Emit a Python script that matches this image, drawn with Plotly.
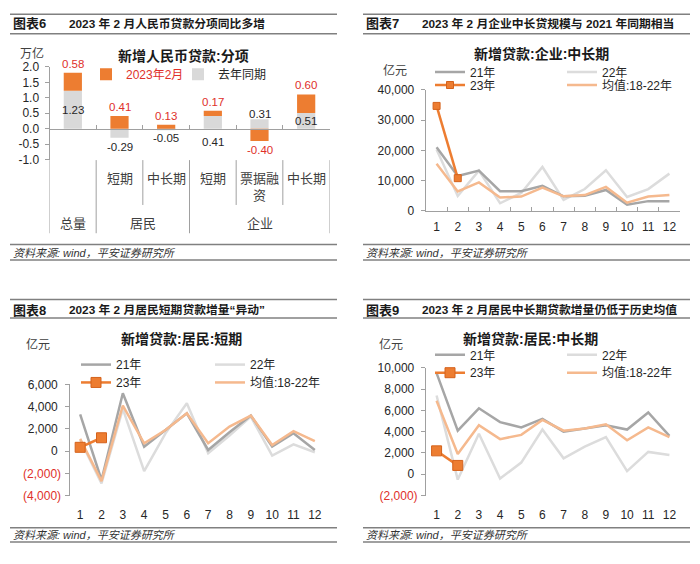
import plotly.graph_objects as go

W, H = 700, 564
FONT = "Liberation Sans, Arial, Noto Sans CJK SC, sans-serif"
ORANGE = "#ED7D31"
ORANGE_D = "#D4621C"
PEACH = "#F5B98E"
GREY21 = "#A6A6A6"
GREY22 = "#DCDCDC"
BARGREY = "#D9D9D9"
RED = "#E0302A"
TXT = "#262626"
AXIS = "#A0A0A0"
RULE = "#808080"

# ---------------- data ----------------
# 图表6
cats6 = ["总量", "居民短期", "居民中长期", "企业短期", "企业票据融资", "企业中长期"]
sub6 = ["", "短期", "中长期", "短期", "票据融<br>资", "中长期"]
groups6 = {"总量": [0], "居民": [1, 2], "企业": [3, 4, 5]}
last_year6 = [1.23, -0.29, -0.05, 0.41, 0.31, 0.51]
yoy6 = [0.58, 0.41, 0.13, 0.17, -0.40, 0.60]
ticks6 = [-1.0, -0.5, 0.0, 0.5, 1.0, 1.5, 2.0]
ticktext6 = ["-1.0", "-0.5", "0.0", "0.5", "1.0", "1.5", "2.0"]

months = ["1", "2", "3", "4", "5", "6", "7", "8", "9", "10", "11", "12"]

# 图表7 新增贷款:企业:中长期 (亿元)
ent_21 = [21000, 11500, 13300, 6500, 6500, 8300, 4800, 5000, 6900, 2000, 3200, 3200]
ent_22 = [20300, 4900, 13300, 2500, 5900, 14500, 3600, 7200, 13400, 4600, 7200, 12300]
ent_23 = [34700, 10800]
ent_avg = [15600, 6400, 9400, 4400, 4700, 7700, 4800, 5200, 7900, 2700, 4700, 5200]
ticks7 = [0, 10000, 20000, 30000, 40000]
ticktext7 = ["0", "10,000", "20,000", "30,000", "40,000"]

# 图表8 新增贷款:居民:短期 (亿元)
hs_21 = [3300, -2600, 5200, 400, 1900, 3400, 100, 1700, 3200, 400, 1600, 100]
hs_22 = [1000, -2900, 3800, -1800, 1600, 4300, -200, 1400, 3100, -400, 600, -100]
hs_23 = [340, 1200]
hs_avg = [1100, -2700, 4100, 700, 1900, 3400, 700, 2200, 3200, 550, 1800, 900]
ticks8 = [-4000, -2000, 0, 2000, 4000, 6000]
ticktext8 = ["(4,000)", "(2,000)", "0", "2,000", "4,000", "6,000"]

# 图表9 新增贷款:居民:中长期 (亿元)
hm_21 = [9500, 4100, 6200, 4900, 4400, 5200, 4000, 4300, 4600, 4200, 5800, 3600]
hm_22 = [7400, -500, 3800, -400, 1100, 4200, 1500, 2600, 3500, 300, 2100, 1800]
hm_23 = [2200, 830]
hm_avg = [6900, 1900, 4600, 3300, 3700, 5100, 4100, 4300, 4700, 3200, 4400, 3500]
ticks9 = [-2000, 0, 2000, 4000, 6000, 8000, 10000]
ticktext9 = ["(2,000)", "0", "2,000", "4,000", "6,000", "8,000", "10,000"]


# ---------------- helpers ----------------
def fx(x):
    return x / W


def fy(y):
    return 1 - y / H


def xdom(l, r):
    return [l / W, r / W]


def ydom(top, bot):
    return [1 - bot / H, 1 - top / H]


def zero_pos(dom, rng):
    return dom[0] + (0 - rng[0]) / (rng[1] - rng[0]) * (dom[1] - dom[0])


def fmt_ticks(texts):
    out = []
    for t in texts:
        if t.startswith("("):
            out.append(f"<span style='color:{RED}'>{t}</span>")
        else:
            out.append(t + "\u00a0")
    return out


ann = []
shapes = []


def A(text, x, y, size=12, color=TXT, bold=False, italic=False, xanchor="center",
      yanchor="middle", xref="paper", yref="paper", **kw):
    if bold:
        text = f"<b>{text}</b>"
    if italic:
        text = f"<i>{text}</i>"
    ann.append(dict(text=text, x=x, y=y, xref=xref, yref=yref, xanchor=xanchor,
                    yanchor=yanchor, showarrow=False,
                    font=dict(size=size, color=color, family=FONT), **kw))


def hline(x0, x1, y, width=1.5, color=RULE):
    shapes.append(dict(type="line", xref="paper", yref="paper", x0=fx(x0), x1=fx(x1),
                       y0=fy(y), y1=fy(y), line=dict(color=color, width=width)))


fig = go.Figure()

# ---------------- panel 6 : bars ----------------
fig.add_trace(go.Bar(x=cats6, y=last_year6, name="去年同期", width=0.39,
                     marker=dict(color=BARGREY, line=dict(width=0)),
                     xaxis="x", yaxis="y", legend="legend", legendrank=2, hoverinfo="skip"))
fig.add_trace(go.Bar(x=cats6, y=yoy6, name=f"<span style='color:{RED}'>2023年2月</span>", width=0.39,
                     marker=dict(color=ORANGE, line=dict(width=0)),
                     xaxis="x", yaxis="y", legend="legend", legendrank=1, hoverinfo="skip"))

# value labels
grey_lbl_style = [("mid", 0), ("end", -9), ("end", -8), ("base", -13), ("end", 5), ("mid", 0)]
for i, (ly, d) in enumerate(zip(last_year6, yoy6)):
    if d >= 0:
        end = max(ly, 0) + d
        sh = 9
    else:
        end = min(ly, 0) + d
        sh = -9
    A(f"{d:.2f}", cats6[i], end, size=11.5, color=RED, xref="x", yref="y", yshift=sh)
    mode, s = grey_lbl_style[i]
    gy = ly / 2 if mode == "mid" else (ly if mode == "end" else 0)
    A(f"{ly:.2f}", cats6[i], gy, size=11.5, color=TXT, xref="x", yref="y", yshift=s)

# category labels & separators
for i, t in enumerate(sub6):
    if t:
        A(t, i, fy(166), size=13, xref="x", yanchor="top", color="#404040")
bounds_long = [-0.5]
bounds_short = []
for g, idx in groups6.items():
    A(g, sum(idx) / len(idx), fy(222), size=13, xref="x", color="#404040")
    bounds_long.append(idx[-1] + 0.5)
    bounds_short += [k + 0.5 for k in idx[:-1]]
for b in bounds_long:
    shapes.append(dict(type="line", xref="x", yref="paper", x0=b, x1=b, y0=fy(157), y1=fy(232),
                       line=dict(color=AXIS, width=1)))
for b in bounds_short:
    shapes.append(dict(type="line", xref="x", yref="paper", x0=b, x1=b, y0=fy(157), y1=fy(203),
                       line=dict(color=AXIS, width=1)))


# ---------------- line panels ----------------
def add_panel(xa, ya, s21, s22, s23, savg, leg1, leg2, msize):
    fig.add_trace(go.Scatter(x=months, y=s22, name="22年", mode="lines",
                             line=dict(color=GREY22, width=2.5), xaxis=xa, yaxis=ya,
                             legend=leg1, legendrank=2, hoverinfo="skip"))
    fig.add_trace(go.Scatter(x=months, y=s21, name="21年", mode="lines",
                             line=dict(color=GREY21, width=2.5), xaxis=xa, yaxis=ya,
                             legend=leg1, legendrank=1, hoverinfo="skip"))
    fig.add_trace(go.Scatter(x=months, y=savg, name="均值:18-22年", mode="lines",
                             line=dict(color=PEACH, width=2.5), xaxis=xa, yaxis=ya,
                             legend=leg2, legendrank=2, hoverinfo="skip"))
    fig.add_trace(go.Scatter(x=months[:len(s23)], y=s23, name="23年", mode="lines+markers",
                             line=dict(color=ORANGE, width=2.5),
                             marker=dict(symbol="square", size=msize, color=ORANGE,
                                         line=dict(color=ORANGE_D, width=1)),
                             xaxis=xa, yaxis=ya, legend=leg2, legendrank=1, hoverinfo="skip"))


add_panel("x2", "y2", ent_21, ent_22, ent_23, ent_avg, "legend2", "legend3", 7)
add_panel("x3", "y3", hs_21, hs_22, hs_23, hs_avg, "legend4", "legend5", 10)
add_panel("x4", "y4", hm_21, hm_22, hm_23, hm_avg, "legend6", "legend7", 10)

# ---------------- axes ----------------
D6x, D6y, R6 = xdom(49.5, 329.5), ydom(61.5, 156.5), [-1, 2]
D7x, D7y, R7 = xdom(426, 680), ydom(85, 209), [0, 40000]
D8x, D8y, R8 = xdom(69.5, 325.5), ydom(387, 501), [-4000, 6000]
D9x, D9y, R9 = xdom(426, 680), ydom(370, 501), [-2000, 10000]

tickfont = dict(size=12, color=TXT, family=FONT)


def yax(dom, rng, tv, tt, anchor, standoff):
    return dict(domain=dom, range=rng, tickvals=tv, ticktext=tt, anchor=anchor,
                showgrid=False, zeroline=False, showline=True, linecolor=AXIS, linewidth=1,
                ticks="outside", ticklen=4, tickcolor=AXIS, tickfont=tickfont,
                ticklabelstandoff=standoff, fixedrange=True)


def xcat(dom, anchor, n, **kw):
    d = dict(domain=dom, type="category", range=[-0.5, n - 0.5], anchor=anchor, showgrid=False,
             zeroline=False, tickfont=tickfont, fixedrange=True, tickangle=0)
    d.update(kw)
    return d


def zero_axis(over, dom, rng):
    return dict(overlaying=over, anchor="free", position=zero_pos(dom, rng), type="linear",
                range=[-0.5, 11.5], tick0=-0.5, dtick=1, ticks="inside", ticklen=4,
                tickcolor=AXIS, showticklabels=False, showline=True, linecolor=AXIS,
                showgrid=False, zeroline=False, fixedrange=True)


layout_axes = dict(
    xaxis=xcat(D6x, "free", 6, position=zero_pos(D6y, R6), showline=True, linecolor=AXIS,
               ticks="inside", tickson="boundaries", ticklen=4, tickcolor=AXIS,
               showticklabels=False),
    yaxis=yax(D6y, R6, ticks6, ticktext6, "x", 3),
    xaxis2=xcat(D7x, "y2", 12, showline=True, linecolor=AXIS, ticks="inside",
                tickson="boundaries", ticklen=4, tickcolor=AXIS, ticklabelstandoff=5),
    yaxis2=yax(D7y, R7, ticks7, fmt_ticks(ticktext7), "x2", 1),
    xaxis3=xcat(D8x, "y3", 12, showline=False, ticks="", ticklabelstandoff=10),
    yaxis3=yax(D8y, R8, ticks8, fmt_ticks(ticktext8), "x3", 1),
    xaxis4=xcat(D9x, "y4", 12, showline=False, ticks="", ticklabelstandoff=10),
    yaxis4=yax(D9y, R9, ticks9, fmt_ticks(ticktext9), "x4", 1),
    xaxis5=zero_axis("x3", D8y, R8),
    xaxis6=zero_axis("x4", D9y, R9),
)


# ---------------- legends ----------------
def leg(x, y, ew):
    return dict(orientation="h", x=fx(x), y=fy(y), xanchor="left", yanchor="middle",
                entrywidth=ew, entrywidthmode="pixels", bgcolor="rgba(0,0,0,0)",
                borderwidth=0, font=dict(size=12, color=TXT, family=FONT),
                itemclick=False, itemdoubleclick=False)


legends = dict(
    legend=leg(86, 69, 47),
    legend2=leg(430, 66.7, 87),
    legend3=leg(430, 80, 87),
    legend4=leg(76, 366.7, 89),
    legend5=leg(76, 385, 89),
    legend6=leg(430, 356.7, 87),
    legend7=leg(430, 375, 87),
)

# ---------------- headers, titles, footers ----------------
headers = [
    (10, 337, 17, 7.5, 27.5, 243.5, 252, 259.5, "图表6", "2023 年 2 月人民币贷款分项同比多增"),
    (363, 690, 17, 7.5, 27.5, 243.5, 252, 259.5, "图表7", "2023 年 2 月企业中长贷规模与 2021 年同期相当"),
    (10, 337, 311, 300, 319, 534, 541.5, 548.5, "图表8", "2023 年 2 月居民短期贷款增量“异动”"),
    (363, 690, 311, 300, 319, 534, 541.5, 548.5, "图表9", "2023 年 2 月居民中长期贷款增量仍低于历史均值"),
]
for x0, x1, ty, l1, l2, f1, fty, f2, lab, title in headers:
    hline(x0, x1, l1)
    hline(x0, x1, l2)
    hline(x0, x1, f1)
    hline(x0, x1, f2)
    A(lab, fx(x0 + 1), fy(ty), size=13, bold=True, xanchor="left", color="#1a1a1a")
    A(title, fx(x0 + 57), fy(ty), size=11.8, bold=True, xanchor="left", color="#1a1a1a")
    A("资料来源: wind，平安证券研究所", fx(x0 + 1), fy(fty), size=11, italic=True,
      xanchor="left", color="#333333")

chart_titles = [
    ("新增人民币贷款:分项", 183, 50, "万亿", 32, 48),
    ("新增贷款:企业:中长期", 541, 48.5, "亿元", 395, 65),
    ("新增贷款:居民:短期", 181, 340.5, "亿元", 37.5, 346.5),
    ("新增贷款:居民:中长期", 530, 340, "亿元", 391, 346.5),
]
for t, tx, ty, u, ux, uy in chart_titles:
    A(t, fx(tx), fy(ty), size=14, bold=True, color="#1a1a1a")
    A(u, fx(ux), fy(uy), size=12, color="#404040")

fig.update_layout(
    width=W, height=H, margin=dict(l=0, r=0, t=0, b=0),
    paper_bgcolor="white", plot_bgcolor="rgba(0,0,0,0)",
    font=dict(family=FONT, color=TXT, size=12),
    barmode="relative", showlegend=True,
    annotations=ann, shapes=shapes,
    **layout_axes, **legends,
)

fig.write_html("out.html", config={"displayModeBar": False},
               post_script="document.body.style.margin='0';document.body.style.overflow='hidden';")
